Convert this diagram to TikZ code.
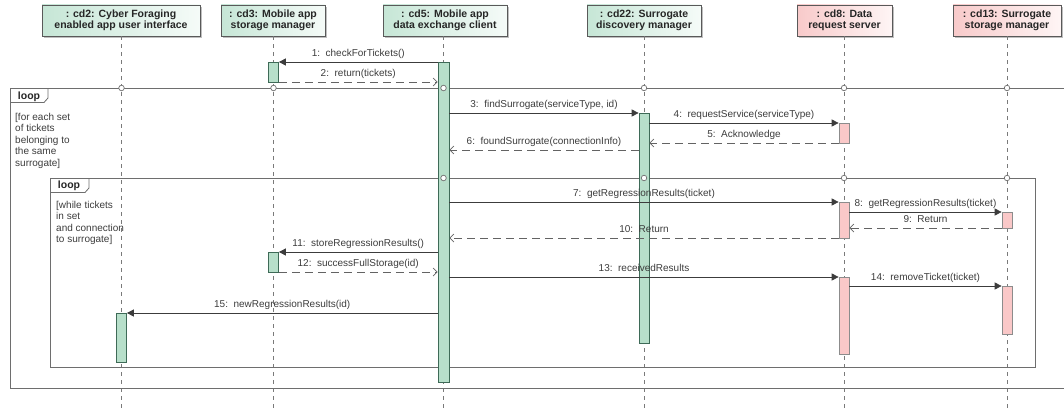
\documentclass[tikz,border=0pt]{standalone}
\usepackage{fontspec}
\setmainfont{Liberation Sans}
\usetikzlibrary{arrows.meta,shadows}

\definecolor{hdrGdark}{HTML}{C6E6D6}
\definecolor{hdrGlight}{HTML}{F5FBF8}
\definecolor{hdrPdark}{HTML}{F8CACA}
\definecolor{hdrPlight}{HTML}{FEF5F5}
\definecolor{barG}{HTML}{B7DFCA}
\definecolor{barGline}{HTML}{3E6A57}
\definecolor{barP}{HTML}{FAC8C8}
\definecolor{barPline}{HTML}{8C8C8C}
\definecolor{ink}{HTML}{3C3C3C}
\definecolor{frameline}{HTML}{6E6E6E}
\definecolor{lifeline}{HTML}{7A7A7A}

\tikzset{
  hdr/.style={draw=ink!85, line width=0.8pt, align=center,
    font=\fontsize{10.5}{11.5}\selectfont\bfseries, text=black!85,
    minimum height=31pt, inner sep=1pt,
    general shadow={fill=black!25, shadow xshift=2pt, shadow yshift=-2pt}},
  hdrG/.style={hdr, left color=hdrGdark, right color=hdrGlight},
  hdrP/.style={hdr, left color=hdrPdark, right color=hdrPlight},
  life/.style={draw=lifeline, line width=0.7pt, dash pattern=on 4pt off 4pt},
  barbase/.style={inner sep=0pt, minimum width=10pt, line width=0.7pt},
  barG/.style={barbase, draw=barGline, fill=barG},
  barP/.style={barbase, draw=barPline, fill=barP},
  frame/.style={draw=frameline, line width=0.8pt},
  tabtext/.style={font=\fontsize{10.5}{12}\selectfont\bfseries, text=black!85, anchor=base},
  guard/.style={font=\fontsize{10}{11.5}\selectfont, text=ink, align=left,
    anchor=north west, inner sep=0pt},
  sync/.style={draw=ink, line width=0.7pt, -{Triangle[length=7pt,width=7pt]}},
  ret/.style={draw=ink!80, line width=0.7pt, dash pattern=on 8pt off 5pt,
    -{Straight Barb[length=4pt,width=8pt]}},
  lbl/.style={font=\fontsize{10}{11}\selectfont, text=ink, anchor=base,
    yshift=5.5pt, inner sep=0pt},
  circ/.style={circle, draw=frameline, fill=white, inner sep=0pt,
    minimum size=5.5pt, line width=0.7pt},
}

\begin{document}
\begin{tikzpicture}[x=1pt,y=-1pt]
\useasboundingbox (0,0) rectangle (1064,412);

% participants
\node[hdrG, minimum width=158pt] (cd2)  at (121,20.5)  {: cd2: Cyber Foraging\\enabled app user interface};
\node[hdrG, minimum width=104pt] (cd3)  at (273,20.5)  {: cd3: Mobile app\\storage manager};
\node[hdrG, minimum width=124pt] (cd5)  at (445,20.5)  {: cd5: Mobile app\\data exchange client};
\node[hdrG, minimum width=114pt] (cd22) at (644,20.5)  {: cd22: Surrogate\\discovery manager};
\node[hdrP, minimum width=95pt]  (cd8)  at (844.5,20.5){: cd8: Data\\request server};
\node[hdrP, minimum width=108pt] (cd13) at (1007,20.5) {: cd13: Surrogate\\storage manager};

% lifeline ends
\coordinate (b2)  at (121.5,412);
\coordinate (b3)  at (273.5,412);
\coordinate (b5)  at (443.5,412);
\coordinate (b22) at (644,412);
\coordinate (b8)  at (844,412);
\coordinate (b13) at (1007,412);

\draw[life] (cd2.south -| b2) -- (b2);
\draw[life] (cd3.south -| b3) -- (b3);
\draw[life] (cd5.south -| b5) -- (b5);
\draw[life] (cd22.south -| b22) -- (b22);
\draw[life] (cd8.south -| b8) -- (b8);
\draw[life] (cd13.south -| b13) -- (b13);

% outer loop fragment
\draw[frame] (1066,88) -- (10,88) -- (10,388) -- (1066,388);
\draw[frame] (48,88) -- (48,98) -- (44,102.5) -- (10,102.5);
\node[tabtext] (loopA) at (29,99.5) {loop};
\node[guard] (guardA) at (15,112.8) {[for each set\\of tickets\\belonging to\\the same\\surrogate]};

% inner loop fragment
\draw[frame] (50,178) rectangle (1035,367);
\draw[frame] (89,178) -- (89,188) -- (85,192.5) -- (50,192.5);
\node[tabtext] (loopB) at (69,188.5) {loop};
\node[guard] (guardB) at (56,200.8) {[while tickets\\in set\\and connection\\to surrogate]};

% activations
\node[barG, minimum height=20pt] (a3a) at (273.5,72) {};
\node[barG, minimum height=20pt] (a3b) at (273.5,262) {};
\node[barG, minimum height=320pt, minimum width=11pt] (a5) at (443.5,222) {};
\node[barG, minimum height=230pt] (a22) at (644,228) {};
\node[barP, minimum height=20pt] (a8a) at (844,133) {};
\node[barP, minimum height=36pt] (a8b) at (844,220) {};
\node[barP, minimum height=77pt] (a8c) at (844,315.5) {};
\node[barP, minimum height=16pt] (a13a) at (1007,220) {};
\node[barP, minimum height=48pt] (a13b) at (1007,310) {};
\node[barG, minimum height=49pt] (a2) at (121.5,337.5) {};

% messages
\draw[sync] (a5.west |- 0,62)   -- node[lbl, midway] {1:\ \ checkForTickets()} (a3a.east |- 0,62);
\draw[ret]  (a3a.east |- 0,82)  -- node[lbl, midway] {2:\ \ return(tickets)} (a5.west |- 0,82);
\draw[sync] (a5.east |- 0,113)  -- node[lbl, midway] {3:\ \ findSurrogate(serviceType, id)} (a22.west |- 0,113);
\draw[sync] (a22.east |- 0,123) -- node[lbl, midway] {4:\ \ requestService(serviceType)} (a8a.west |- 0,123);
\draw[ret]  (a8a.west |- 0,143) -- node[lbl, midway] {5:\ \ Acknowledge} (a22.east |- 0,143);
\draw[ret]  (a22.west |- 0,150) -- node[lbl, midway] {6:\ \ foundSurrogate(connectionInfo)} (a5.east |- 0,150);
\draw[sync] (a5.east |- 0,202)  -- node[lbl, midway] {7:\ \ getRegressionResults(ticket)} (a8b.west |- 0,202);
\draw[sync] (a8b.east |- 0,212) -- node[lbl, midway] {8:\ \ getRegressionResults(ticket)} (a13a.west |- 0,212);
\draw[ret]  (a13a.west |- 0,228) -- node[lbl, midway] {9:\ \ Return} (a8b.east |- 0,228);
\draw[ret]  (a8b.west |- 0,238) -- node[lbl, midway] {10:\ \ Return} (a5.east |- 0,238);
\draw[sync] (a5.west |- 0,252)  -- node[lbl, midway] {11:\ \ storeRegressionResults()} (a3b.east |- 0,252);
\draw[ret]  (a3b.east |- 0,272) -- node[lbl, midway] {12:\ \ successFullStorage(id)} (a5.west |- 0,272);
\draw[sync] (a5.east |- 0,277)  -- node[lbl, midway] {13:\ \ receivedResults} (a8c.west |- 0,277);
\draw[sync] (a8c.east |- 0,286) -- node[lbl, midway] {14:\ \ removeTicket(ticket)} (a13b.west |- 0,286);
\draw[sync] (a5.west |- 0,313)  -- node[lbl, midway] {15:\ \ newRegressionResults(id)} (a2.east |- 0,313);

% lifeline crossings on fragment borders
\node[circ] (o2)  at (b2 |- 0,88) {};
\node[circ] (o3)  at (b3 |- 0,88) {};
\node[circ] (o5)  at (b5 |- 0,88) {};
\node[circ] (o22) at (b22 |- 0,88) {};
\node[circ] (o8)  at (b8 |- 0,88) {};
\node[circ] (o13) at (b13 |- 0,88) {};
\node[circ] (i5)  at (b5 |- 0,178) {};
\node[circ] (i22) at (b22 |- 0,178) {};
\node[circ] (i8)  at (b8 |- 0,178) {};
\node[circ] (i13) at (b13 |- 0,178) {};
\end{tikzpicture}
\end{document}
